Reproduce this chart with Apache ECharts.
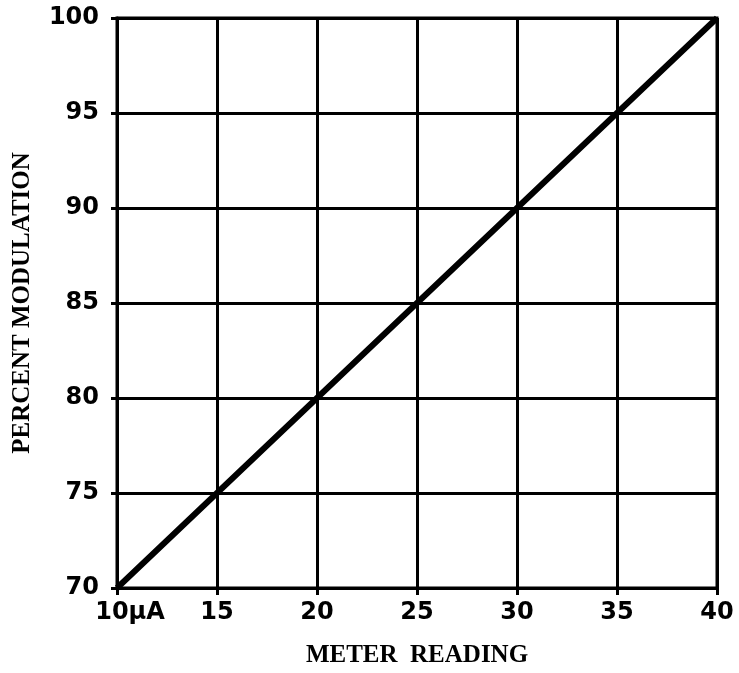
<!DOCTYPE html>
<html>
<head>
<meta charset="utf-8">
<script src="https://cdn.jsdelivr.net/npm/echarts@6/dist/echarts.min.js"></script>
<style>
  html, body { margin: 0; padding: 0; background: #fff; }
  #chart { width: 739px; height: 673px; }
</style>
</head>
<body>
<div id="chart"></div>
<script>
// Meter reading (µA) against percent modulation
const meterReading = [10, 15, 20, 25, 30, 35, 40];
const percentModulation = [70, 75, 80, 85, 90, 95, 100];
const xTickLabels = { 10: '{first|10\u03BCA}' };

const chart = echarts.init(document.getElementById('chart'));
const tickFont = { fontFamily: 'DejaVu Sans', fontWeight: 'bold', fontSize: 24, color: '#000' };
const nameFont = { fontFamily: 'Liberation Serif', fontWeight: 'bold', fontSize: 25, color: '#000' };

chart.setOption({
  animation: false,
  backgroundColor: '#fff',
  grid: { left: 117, right: 22, top: 18, bottom: 83, show: true, borderColor: '#000', borderWidth: 3 },
  xAxis: {
    type: 'value', min: 10, max: 40, interval: 5,
    name: 'METER  READING', nameLocation: 'middle', nameGap: 55,
    nameTextStyle: nameFont,
    axisLine: { show: true, lineStyle: { color: '#000', width: 3 } },
    axisTick: { show: true, length: 7, lineStyle: { color: '#000', width: 3 } },
    splitLine: { show: true, lineStyle: { color: '#000', width: 3 } },
    axisLabel: Object.assign({
      margin: 13,
      formatter: v => xTickLabels[v] || String(v),
      rich: { first: Object.assign({ padding: [0, 0, 0, 26] }, tickFont) }
    }, tickFont)
  },
  yAxis: {
    type: 'value', min: 70, max: 100, interval: 5,
    name: 'PERCENT MODULATION', nameLocation: 'middle', nameGap: 82,
    nameTextStyle: nameFont,
    axisLine: { show: true, lineStyle: { color: '#000', width: 3 } },
    axisTick: { show: true, length: 6, lineStyle: { color: '#000', width: 3 } },
    splitLine: { show: true, lineStyle: { color: '#000', width: 3 } },
    axisLabel: Object.assign({ margin: 18 }, tickFont)
  },
  series: [{
    type: 'line',
    data: meterReading.map((x, i) => [x, percentModulation[i]]),
    showSymbol: false,
    lineStyle: { color: '#000', width: 6 },
    z: 5
  }]
});
</script>
</body>
</html>
